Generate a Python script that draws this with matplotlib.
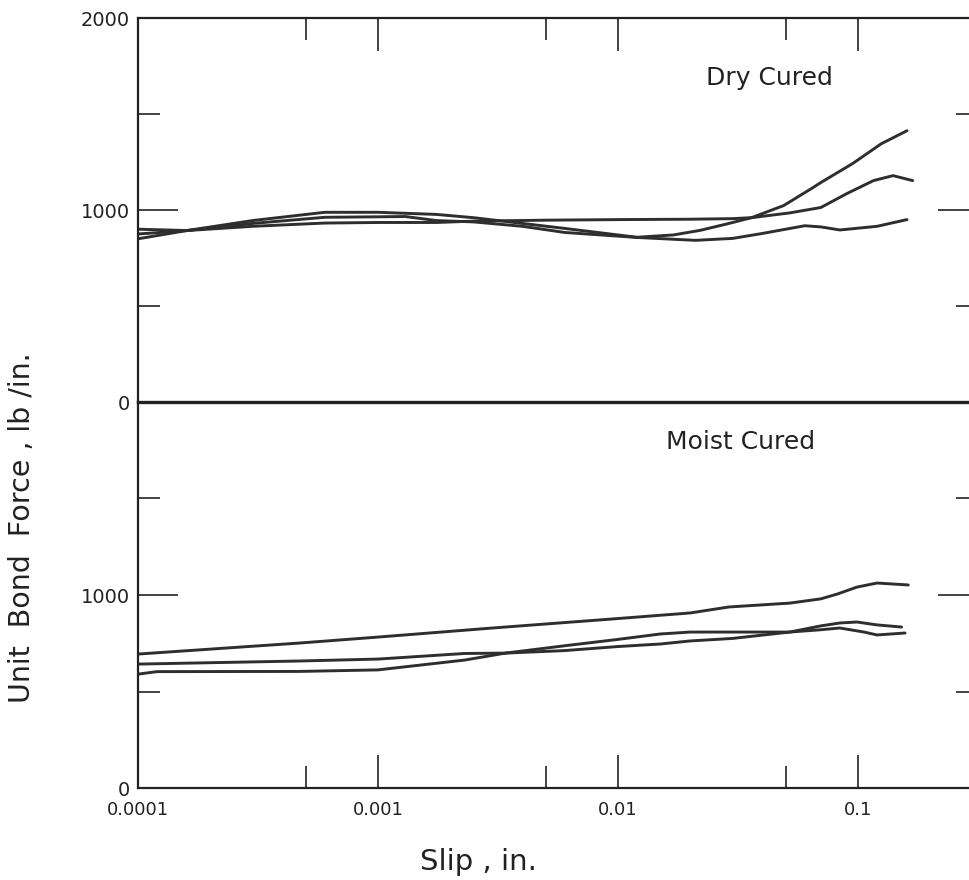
import matplotlib
matplotlib.use("Agg")
import matplotlib.pyplot as plt
from matplotlib.ticker import FixedLocator, FixedFormatter, NullFormatter

# ---- data: unit bond force (lb/in.) vs slip (in.) ----
# Dry cured specimens
dry_x_a = [1e-4, 1.6e-4, 3e-4, 6e-4, 1e-3, 1.75e-3, 2.5e-3, 4e-3, 6e-3, 1e-2,
           1.2e-2, 1.7e-2, 2.2e-2, 2.9e-2, 3.6e-2, 4.9e-2, 6.5e-2, 7e-2,
           9.5e-2, 1.25e-1, 1.6e-1]
dry_y_a = [850, 893, 945, 988, 988, 977, 960, 930, 904, 870,
           858, 870, 894, 930, 960, 1023, 1117, 1143,
           1242, 1345, 1413]

dry_x_b = [1e-4, 1.6e-4, 3e-4, 6e-4, 1e-3, 1.75e-3, 2.5e-3, 5e-3, 1e-2, 2e-2,
           3e-2, 3.6e-2, 5.2e-2, 7e-2, 9e-2, 1.16e-1, 1.4e-1, 1.69e-1]
dry_y_b = [900, 893, 915, 932, 935, 935, 942, 947, 950, 952,
           955, 960, 985, 1013, 1086, 1153, 1179, 1153]

dry_x_c = [1e-4, 1.6e-4, 3e-4, 6e-4, 1.3e-3, 1.75e-3, 2.5e-3, 4e-3, 6e-3,
           1.2e-2, 2.1e-2, 3e-2, 4e-2, 6e-2, 7e-2, 8.4e-2, 1.2e-1, 1.6e-1]
dry_y_c = [875, 893, 930, 962, 966, 945, 938, 915, 883,
           857, 842, 852, 878, 918, 912, 896, 915, 950]

# Moist cured specimens
moist_x_a = [1e-4, 4.7e-4, 1e-3, 3e-3, 1e-2, 1.5e-2, 2e-2, 2.9e-2, 5.2e-2,
             7e-2, 8.2e-2, 9.9e-2, 1.2e-1, 1.62e-1]
moist_y_a = [694, 751, 782, 829, 878, 895, 907, 938, 958,
             980, 1005, 1041, 1062, 1052]

moist_x_b = [1e-4, 4.7e-4, 1e-3, 2.3e-3, 3.4e-3, 6e-3, 1e-2, 1.5e-2, 2e-2,
             3e-2, 5.2e-2, 7e-2, 8.4e-2, 9.9e-2, 1.2e-1, 1.52e-1]
moist_y_b = [642, 658, 668, 697, 699, 712, 733, 746, 762,
             775, 808, 840, 855, 860, 845, 834]

moist_x_c = [1e-4, 1.2e-4, 4.7e-4, 1e-3, 2.3e-3, 3.4e-3, 6e-3, 1e-2, 1.5e-2,
             2e-2, 3e-2, 5.2e-2, 7e-2, 8.4e-2, 1.06e-1, 1.2e-1, 1.57e-1]
moist_y_c = [590, 603, 604, 612, 663, 699, 737, 770, 798,
             808, 808, 808, 820, 829, 808, 793, 803]

x_major = [1e-4, 1e-3, 1e-2, 1e-1]
x_labels = ["0.0001", "0.001", "0.01", "0.1"]
x_minor = [5e-4, 5e-3, 5e-2]

upper_labels = ["0", "1000", "2000"]
lower_labels = ["0", "1000", ""]

panel_titles = ["Dry Cured", "Moist Cured"]

INK = "#222222"

# ---- figure ----
plt.rcParams["font.family"] = ["DejaVu Sans"]
fig = plt.figure(figsize=(9.7, 8.8), dpi=100)

left = 138 / 970
width = (978 - 138) / 970
bot_ax = fig.add_axes([left, 1 - 788 / 880, width, (788 - 402) / 880])
top_ax = fig.add_axes([left, 1 - 402 / 880, width, (402 - 18) / 880])
for ax in (top_ax, bot_ax):
    ax.set_facecolor("none")

line_kw = dict(color="#2e2e2e", lw=2.1, solid_capstyle="round",
               solid_joinstyle="round")

top_ax.plot(dry_x_a, dry_y_a, **line_kw)
top_ax.plot(dry_x_b, dry_y_b, **line_kw)
top_ax.plot(dry_x_c, dry_y_c, **line_kw)

bot_ax.plot(moist_x_a, moist_y_a, **line_kw)
bot_ax.plot(moist_x_b, moist_y_b, **line_kw)
bot_ax.plot(moist_x_c, moist_y_c, **line_kw)

for ax, ylabels in ((top_ax, upper_labels), (bot_ax, lower_labels)):
    ax.set_xscale("log")
    ax.set_xlim(1e-4, 10 ** -0.5)
    ax.set_ylim(0, 2000)
    ax.yaxis.set_major_locator(FixedLocator([0, 1000, 2000]))
    ax.yaxis.set_major_formatter(FixedFormatter(ylabels))
    ax.yaxis.set_minor_locator(FixedLocator([500, 1500]))
    ax.yaxis.set_minor_formatter(NullFormatter())
    ax.xaxis.set_major_locator(FixedLocator(x_major))
    ax.xaxis.set_minor_locator(FixedLocator(x_minor))
    ax.xaxis.set_minor_formatter(NullFormatter())
    ax.tick_params(axis="y", which="major", direction="in", length=29,
                   width=1.2, left=True, right=True, labelsize=14, pad=6,
                   color=INK, labelcolor=INK)
    ax.tick_params(axis="y", which="minor", direction="in", length=16,
                   width=1.2, left=True, right=True, color=INK)
    for s in ax.spines.values():
        s.set_linewidth(1.6)
        s.set_color(INK)

# x ticks: top edge of the upper panel, bottom edge of the lower panel
top_ax.tick_params(axis="x", which="both", direction="in", top=True,
                   bottom=False, labelbottom=False, labeltop=False,
                   width=1.2, color=INK)
top_ax.tick_params(axis="x", which="major", length=24)
top_ax.tick_params(axis="x", which="minor", length=16)
top_ax.spines["bottom"].set_linewidth(2.4)

bot_ax.xaxis.set_major_formatter(FixedFormatter(x_labels))
bot_ax.tick_params(axis="x", which="both", direction="in", top=False,
                   bottom=True, labelsize=13, pad=9, width=1.2,
                   color=INK, labelcolor=INK)
bot_ax.tick_params(axis="x", which="major", length=24)
bot_ax.tick_params(axis="x", which="minor", length=16)
bot_ax.spines["top"].set_visible(False)

top_ax.text(0.752, 0.844, panel_titles[0], transform=top_ax.transAxes,
            ha="center", va="center", fontsize=18, color=INK)
bot_ax.text(0.717, 0.896, panel_titles[1], transform=bot_ax.transAxes,
            ha="center", va="center", fontsize=18, color=INK)

fig.text(22 / 970, 1 - 528 / 880, "Unit  Bond  Force , lb /in.",
         rotation=90, ha="center", va="center", fontsize=20.5, color=INK)
fig.text(478 / 970, 1 - 862 / 880, "Slip , in.", ha="center", va="center",
         fontsize=21, color=INK)

fig.savefig("out.png", dpi=100)
